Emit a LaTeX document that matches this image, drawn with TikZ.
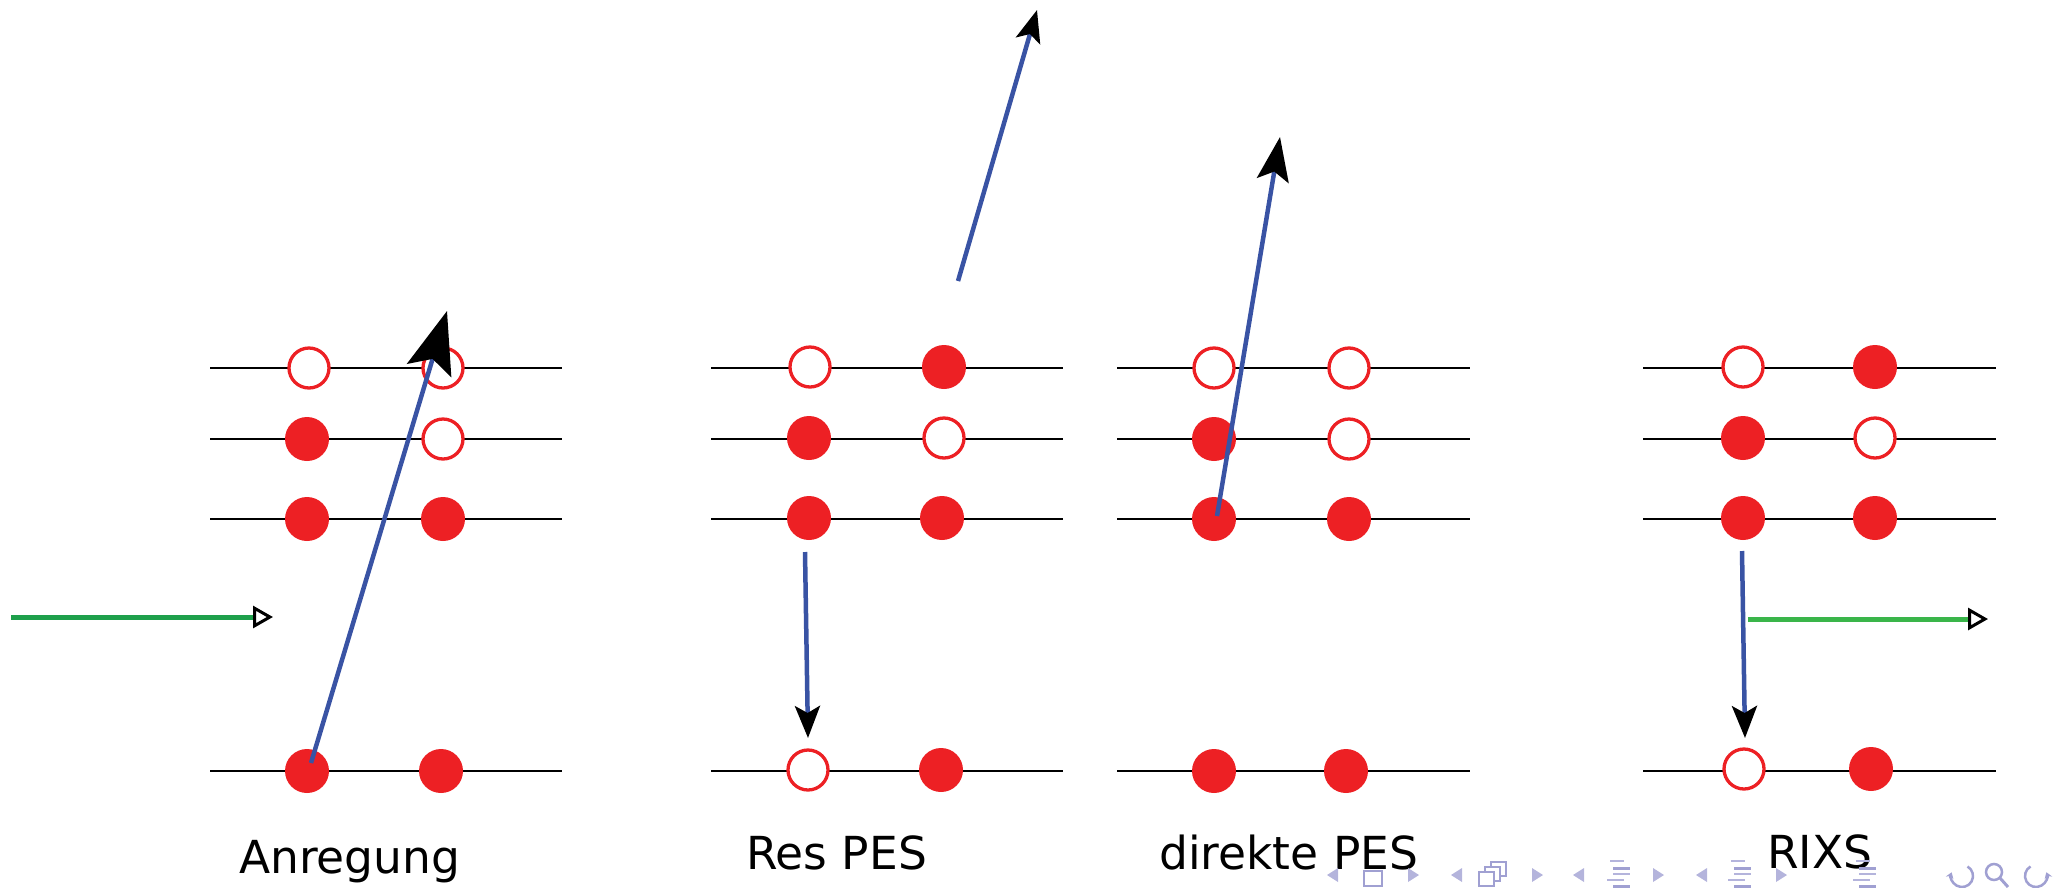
\documentclass[tikz,border=0pt]{standalone}
\usepackage{fontspec}
\setmainfont{DejaVu Sans}
\usetikzlibrary{arrows.meta}
\definecolor{dotred}{RGB}{237,32,36}
\definecolor{arrblue}{RGB}{57,83,164}
\definecolor{grnA}{RGB}{30,160,75}
\definecolor{grnB}{RGB}{58,181,74}
\definecolor{navc}{RGB}{180,180,220}
\definecolor{navd}{RGB}{160,160,210}
\begin{document}
\begin{tikzpicture}[x=1pt,y=-1pt,
  level/.style={line width=2.2pt,black},
  fulldot/.style={circle,fill=dotred,minimum size=44pt,inner sep=0pt},
  emptydot/.style={circle,draw=dotred,fill=white,line width=3.3pt,minimum size=40pt,inner sep=0pt},
  blueln/.style={arrblue,line width=4.5pt},
  lab/.style={anchor=base west,font=\fontsize{45.5}{50}\selectfont,inner sep=0pt},
  photon/.style={line width=5pt,-{Triangle[open,length=20pt,width=22pt,line width=3pt,color=black]}},
  navtri/.style={fill=navc,draw=none},
  navbox/.style={draw=navd,line width=2pt,fill=white},
]
\useasboundingbox (0,0) rectangle (2056,887);
\clip (0,0) rectangle (2056,887);

% ---------- levels ----------
\foreach \xl/\xr in {210/562,711/1063,1117/1470,1643/1996}{
  \foreach \yy in {368,439,519,771}{
    \draw[level] (\xl,\yy) -- (\xr,\yy);
  }
}

% ---------- panel 1 : Anregung ----------
\node[emptydot] (a11) at (309,368) {};
\node[emptydot] (a12) at (443,368) {};
\node[fulldot]  (a21) at (307,439) {};
\node[emptydot] (a22) at (443,439) {};
\node[fulldot]  (a31) at (307,519) {};
\node[fulldot]  (a32) at (443,519) {};
\node[fulldot]  (a41) at (307,771) {};
\node[fulldot]  (a42) at (441,771) {};

% ---------- panel 2 : Res PES ----------
\node[emptydot] (b11) at (810,367) {};
\node[fulldot]  (b12) at (944,367) {};
\node[fulldot]  (b21) at (809,438) {};
\node[emptydot] (b22) at (944,438) {};
\node[fulldot]  (b31) at (809,518) {};
\node[fulldot]  (b32) at (942,518) {};
\node[emptydot] (b41) at (808,770) {};
\node[fulldot]  (b42) at (941,770) {};

% ---------- panel 3 : direkte PES ----------
\node[emptydot] (c11) at (1214,368) {};
\node[emptydot] (c12) at (1349,368) {};
\node[fulldot]  (c21) at (1214,439) {};
\node[emptydot] (c22) at (1349,439) {};
\node[fulldot]  (c31) at (1214,519) {};
\node[fulldot]  (c32) at (1349,519) {};
\node[fulldot]  (c41) at (1214,771) {};
\node[fulldot]  (c42) at (1346,771) {};

% ---------- panel 4 : RIXS ----------
\node[emptydot] (d11) at (1743,367) {};
\node[fulldot]  (d12) at (1875,367) {};
\node[fulldot]  (d21) at (1743,438) {};
\node[emptydot] (d22) at (1875,438) {};
\node[fulldot]  (d31) at (1743,518) {};
\node[fulldot]  (d32) at (1875,518) {};
\node[emptydot] (d41) at (1744,769) {};
\node[fulldot]  (d42) at (1871,769) {};

% ---------- coordinates for arrows ----------
\coordinate (a1s) at (311,763);
\coordinate (a1e) at (447,311);
\coordinate (b1s) at (958,281);
\coordinate (b1e) at (1037,10);
\coordinate (b2s) at (805,552);
\coordinate (b2e) at (808,738);
\coordinate (c1s) at (1217,516);
\coordinate (c1e) at (1280,137);
\coordinate (d2s) at (1742,551);
\coordinate (d2e) at (1745,738);
\coordinate (g1s) at (11,617);
\coordinate (g1e) at (273,617);
\coordinate (g2s) at (1748,619);
\coordinate (g2e) at (1988,619);

\draw[blueln,-{Stealth[length=62pt,width=46pt,inset=12pt,color=black]}] (a1s) -- (a1e);
\draw[blueln,-{Stealth[length=32pt,width=25pt,inset=7pt,color=black]}] (b1s) -- (b1e);
\draw[blueln,-{Stealth[length=32pt,width=25pt,inset=7pt,color=black]}] (b2s) -- (b2e);
\draw[blueln,-{Stealth[length=44pt,width=32pt,inset=9pt,color=black]}] (c1s) -- (c1e);
\draw[blueln,-{Stealth[length=32pt,width=25pt,inset=7pt,color=black]}] (d2s) -- (d2e);

\draw[photon,grnA] (g1s) -- (g1e);
\draw[photon,grnB] (g2s) -- (g2e);

% ---------- labels ----------
\node[lab] (la) at (239,873) {Anregung};
\node[lab] (lb) at (746,869) {Res PES};
\node[lab] (lc) at (1159,869) {direkte PES};
\node[lab] (ld) at (1767,868) {RIXS};

% ---------- navigation symbols ----------
\foreach \cx in {1332,1456,1578,1701}{
  \fill[navtri] (\cx-5,875) -- (\cx+6,868) -- (\cx+6,882) -- cycle;
}
\foreach \cx in {1414,1538,1659,1782}{
  \fill[navtri] (\cx+5,875) -- (\cx-6,868) -- (\cx-6,882) -- cycle;
}
\draw[navbox] (1364,871) rectangle (1382,886);
\draw[navbox] (1491,862) rectangle (1506,876);
\draw[navbox] (1485,867) rectangle (1500,881);
\draw[navbox] (1479,872) rectangle (1494,886);
\foreach \lx in {1607,1728,1853}{
  \draw[navc,line width=2.5pt] (\lx+3,861) -- (\lx+17,861);
  \draw[navd,line width=3pt] (\lx+6,868) -- (\lx+23,868);
  \draw[navc,line width=2.5pt] (\lx+6,874) -- (\lx+23,874);
  \draw[navc,line width=2.5pt] (\lx,880) -- (\lx+17,880);
  \draw[navd,line width=3pt] (\lx+6,886) -- (\lx+23,886);
}
\draw[navd,line width=2.5pt,-{Stealth[length=6pt,width=8pt]}] (1962,876) ++(-60:11) arc[start angle=-60,end angle=200,radius=11];
\draw[navd,line width=2.5pt] (1994,872) circle[radius=8];
\draw[navd,line width=3pt] (2000,878) -- (2008,887);
\draw[navd,line width=2.5pt,-{Stealth[length=6pt,width=8pt]}] (2036,876) ++(240:11) arc[start angle=240,end angle=-20,radius=11];
\end{tikzpicture}
\end{document}
